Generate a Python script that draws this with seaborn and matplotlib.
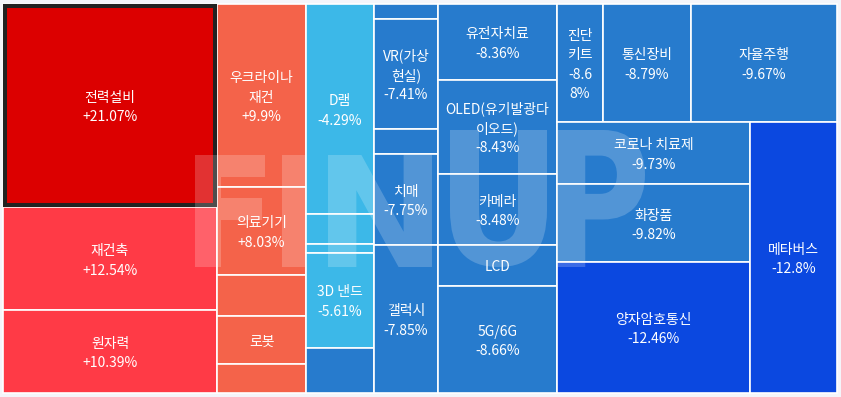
import matplotlib
matplotlib.use('Agg')
import matplotlib.pyplot as plt
import seaborn as sns
from matplotlib.patches import Rectangle, PathPatch
from matplotlib.textpath import TextPath
from matplotlib.font_manager import FontProperties
from matplotlib.transforms import Affine2D

# themes in the order the treemap lays them out (sorted by daily return)
themes = ['전력설비', '재건축', '원자력', '우크라이나 재건', '의료기기', '', '로봇', '',
          'D램', '', '', '3D 낸드', '', '', 'VR(가상현실)', '', '치매', '갤럭시',
          '유전자치료', 'OLED(유기발광다이오드)', '카메라', 'LCD', '5G/6G',
          '진단키트', '통신장비', '자율주행', '코로나 치료제', '화장품', '양자암호통신', '메타버스']
returns = [21.07, 12.54, 10.39, 9.9, 8.03, 7.6, 7.2, 6.5,
           -4.29, -4.8, -5.3, -5.61, -6.9, -7.2, -7.41, -7.6, -7.75, -7.85,
           -8.36, -8.43, -8.48, -8.55, -8.66,
           -8.68, -8.79, -9.67, -9.73, -9.82, -12.46, -12.8]
sizes = [4355, 2194, 1776, 1629, 783, 369, 423, 258,
         1428, 207, 56, 645, 309, 93, 707, 157, 586, 947,
         899, 1119, 851, 482, 1279,
         541, 1036, 1718, 1210, 1505, 2519, 2360]

# colour bins for the returns
bin_edges = [-10, -6, 0, 10, 15]
bin_colors = ['#0b48e0', '#277bcd', '#3cb8e8', '#f4634a', '#ff3a46', '#dc0000']


def color_for(r):
    i = sum(r >= e for e in bin_edges)
    return bin_colors[i]


# d3-style squarified layout that keeps the input order
def squarify(values, x0, y0, x1, y1, ratio=(1 + 5 ** 0.5) / 2):
    rects = []
    total = float(sum(values))
    n = len(values)
    i0 = 0
    while i0 < n:
        dx, dy = x1 - x0, y1 - y0
        i1 = i0 + 1
        s = lo = hi = values[i0]
        alpha = max(dy / dx, dx / dy) / (total * ratio)
        beta = s * s * alpha
        best = max(hi / beta, beta / lo)
        while i1 < n:
            v = values[i1]
            s2 = s + v
            lo2, hi2 = min(lo, v), max(hi, v)
            beta = s2 * s2 * alpha
            r = max(hi2 / beta, beta / lo2)
            if r > best:
                break
            s, lo, hi, best = s2, lo2, hi2, r
            i1 += 1
        row = values[i0:i1]
        if dx < dy:
            h = dy * s / total
            cx = x0
            for v in row:
                w = dx * v / s
                rects.append((cx, y0, w, h))
                cx += w
            y0 += h
        else:
            w = dx * s / total
            cy = y0
            for v in row:
                h = dy * v / s
                rects.append((x0, cy, w, h))
                cy += h
            x0 += w
        total -= s
        i0 = i1
    return rects


sns.set_theme(style='white')
plt.rcParams['font.family'] = ['Noto Sans CJK KR', 'DejaVu Sans']

W, H = 841, 397
BG = '#f4f5fa'
FS = 10.0
LINE_H = 19.5
PAD = 7.5

fig = plt.figure(figsize=(W / 100, H / 100), dpi=100, facecolor=BG)
ax = fig.add_axes([0, 0, 1, 1])
ax.set_xlim(0, W)
ax.set_ylim(H, 0)
ax.axis('off')

renderer = fig.canvas.get_renderer()


def text_px(s):
    t = ax.text(0, 0, s, fontsize=FS)
    w = t.get_window_extent(renderer).width
    t.remove()
    return w


def wrap(s, avail):
    lines, cur = [], ''
    for word in s.split(' '):
        trial = word if not cur else cur + ' ' + word
        if text_px(trial) <= avail:
            cur = trial
            continue
        if cur:
            lines.append(cur)
            cur = ''
        for ch in word:
            if cur and text_px(cur + ch) > avail:
                lines.append(cur)
                cur = ch
            else:
                cur += ch
    if cur:
        lines.append(cur)
    return lines


rects = squarify(sizes, 3, 4, 837, 393)

for name, r, (x, y, w, h) in zip(themes, returns, rects):
    ax.add_patch(Rectangle((x, y), w, h, facecolor=color_for(r), edgecolor='white',
                           linewidth=1.2, zorder=1))
    if not name:
        continue
    avail = w - 2 * PAD
    lines = wrap(name, avail) + wrap(f'{r:+g}%', avail)
    n_fit = int((h - 16) // LINE_H)
    lines = lines[:n_fit]
    cy = y + h / 2 + 2
    for i, ln in enumerate(lines):
        ax.text(x + w / 2, cy + (i - (len(lines) - 1) / 2) * LINE_H, ln,
                ha='center', va='center', color='white', fontsize=FS, zorder=5)

# highlighted (selected) cell frame
x, y, w, h = rects[0]
ax.add_patch(Rectangle((x + 2, y + 2), w - 4, h - 4, facecolor='none',
                       edgecolor='#222222', linewidth=2.9, zorder=2))

# translucent FINUP watermark
wm_letters = ['F', 'I', 'N', 'U', 'P']
wm_boxes = [(195, 155, 265, 267), (282, 155, 305, 267), (328, 155, 432, 267),
            (450, 130, 547, 267), (558, 130, 645, 267)]
wm_font = FontProperties(family='DejaVu Sans', weight='bold')
for ch, (bx0, by0, bx1, by1) in zip(wm_letters, wm_boxes):
    tp = TextPath((0, 0), ch, size=100, prop=wm_font)
    ext = tp.get_extents()
    tr = (Affine2D().translate(-ext.x0, -ext.y0)
          .scale((bx1 - bx0) / ext.width, -(by1 - by0) / ext.height)
          .translate(bx0, by1))
    ax.add_patch(PathPatch(tr.transform_path(tp), facecolor='white', edgecolor='none',
                           alpha=0.2, zorder=3))

fig.savefig('out.png', dpi=100, facecolor=BG)
